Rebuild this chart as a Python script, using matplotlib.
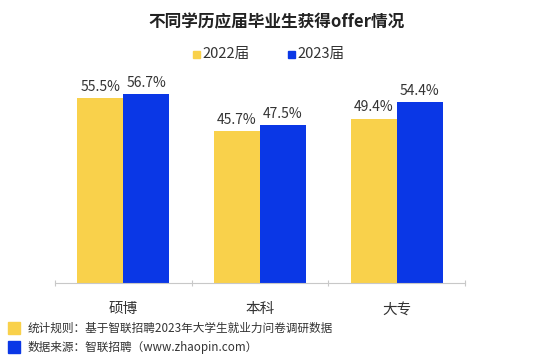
"""不同学历应届毕业生获得offer情况 — grouped bar chart saved as out.png."""

import matplotlib

matplotlib.use("Agg")

import matplotlib.pyplot as plt
import numpy as np
from matplotlib.patches import Rectangle

plt.rcParams["font.family"] = ["Noto Sans CJK SC", "DejaVu Sans"]

# data
categories = ["硕博", "本科", "大专"]
series_names = ["2022届", "2023届"]
values_2022 = [55.5, 45.7, 49.4]
values_2023 = [56.7, 47.5, 54.4]

YELLOW = "#f9d14b"
BLUE = "#0a37e6"
TEXT = "#333333"
AXIS = "#c8c8c8"

fig = plt.figure(figsize=(5.54, 3.64), dpi=100)
fig.patch.set_facecolor("white")
ax = fig.add_axes([0.0993, 0.2225, 0.740, 0.585])

x = np.arange(len(categories))
width = 0.336
bars_a = ax.bar(x - width / 2, values_2022, width, color=YELLOW, zorder=2)
bars_b = ax.bar(x + width / 2, values_2023, width, color=BLUE, zorder=2)
for bars in (bars_a, bars_b):
    ax.bar_label(bars, labels=[f"{v:.1f}%" for v in bars.datavalues],
                 padding=3, fontsize=10, color=TEXT)

ax.set_xlim(-0.5, len(categories) - 0.5)
ax.set_ylim(0, 64)
ax.set_yticks([])
ax.set_xticks(np.arange(-0.5, len(categories)), minor=False)
ax.set_xticklabels([])
ax.tick_params(axis="x", length=4, color=AXIS, direction="inout")
for i, name in enumerate(categories):
    ax.annotate(name, (i, 0), xycoords=("data", "axes fraction"),
                xytext=(0, -19), textcoords="offset points",
                ha="center", va="center", fontsize=10.5, color=TEXT)
for side in ("top", "right", "left"):
    ax.spines[side].set_visible(False)
ax.spines["bottom"].set_color(AXIS)

fig.text(0.5, 0.94, "不同学历应届毕业生获得offer情况", ha="center", va="center",
         fontsize=12, fontweight="bold", color="#222222")

# legend row
for sx, color, name in [(193, YELLOW, series_names[0]), (288, BLUE, series_names[1])]:
    fig.patches.append(Rectangle((sx / 554, 1 - 58 / 364), 7 / 554, 7 / 364,
                                 transform=fig.transFigure, color=color))
    fig.text((sx + 9) / 554, 1 - 54 / 364, name, ha="left", va="center",
             fontsize=10.5, color=TEXT)

# footnotes
notes = [(YELLOW, 328, "统计规则：基于智联招聘2023年大学生就业力问卷调研数据"),
         (BLUE, 347, "数据来源：智联招聘（www.zhaopin.com）")]
for color, cy, note in notes:
    fig.patches.append(Rectangle((8 / 554, 1 - (cy + 6) / 364), 12 / 554, 12 / 364,
                                 transform=fig.transFigure, color=color))
    fig.text(28 / 554, 1 - cy / 364, note, ha="left", va="center",
             fontsize=8.4, color=TEXT)

fig.savefig("out.png", dpi=100, facecolor="white")
